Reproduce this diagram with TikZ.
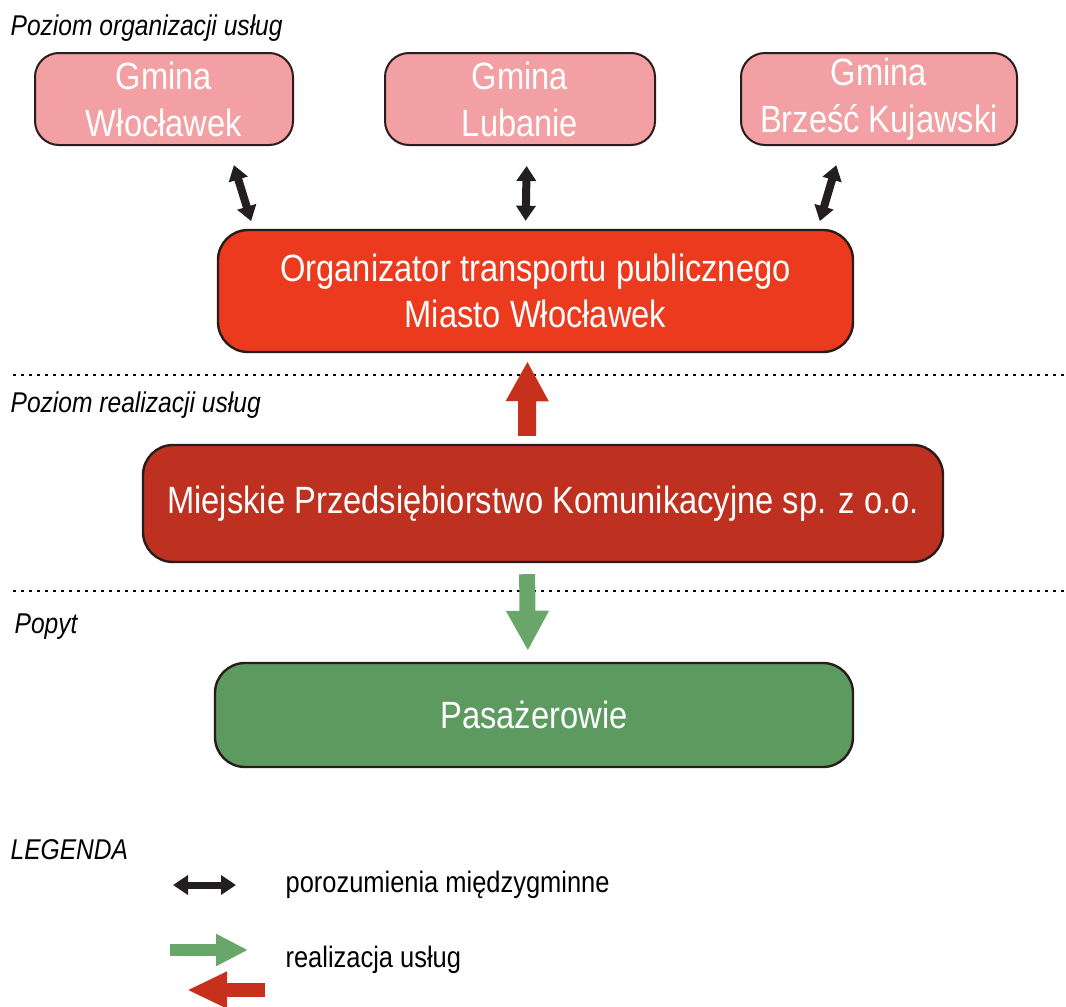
\documentclass[tikz,border=0pt]{standalone}
\usepackage{fontspec}
\setmainfont{Liberation Sans}[FakeStretch=0.86]
\usetikzlibrary{arrows.meta,positioning}
\definecolor{gminapink}{HTML}{F2A0A3}
\definecolor{orgred}{HTML}{EC3A1E}
\definecolor{mpkred}{HTML}{BE301F}
\definecolor{pasgreen}{HTML}{5C9A60}
\definecolor{arrred}{HTML}{C8301E}
\definecolor{arrgreen}{HTML}{68A66A}
\definecolor{boxline}{HTML}{2A1C1C}
\definecolor{arrblack}{HTML}{231F20}

\begin{document}
\begin{tikzpicture}[x=0.5pt, y=-0.5pt, semithick, node distance=45pt]
	\tikzstyle{every node}=[inner sep=0pt]
	\tikzstyle{gmina}=[draw=boxline, line width=1pt, fill=gminapink, rounded corners=12pt, minimum height=46pt, align=center, text=white, font=\fontsize{19}{23.5}\selectfont]
	\tikzstyle{level}=[draw=boxline, line width=1.2pt, rounded corners=15pt, align=center, text=white, font=\fontsize{19}{23}\selectfont]
	\tikzstyle{tier}=[anchor=west, font=\fontsize{14.3}{17}\selectfont\itshape]
	\tikzstyle{legtext}=[anchor=west, font=\fontsize{14.8}{17}\selectfont]
	\tikzstyle{dbl}=[arrblack, line width=4pt, {Triangle[width=9.5pt,length=7.5pt]}-{Triangle[width=9.5pt,length=7.5pt]}]
	\tikzstyle{upward}=[arrred, line width=9pt, -{Triangle[width=20pt,length=20pt]}]
	\tikzstyle{downward}=[arrgreen, line width=8pt, -{Triangle[width=20pt,length=20pt]}]
	\tikzstyle{sep}=[line width=1.1pt, dash pattern=on 1.3pt off 2.7pt]
	\useasboundingbox (0,0) rectangle (1066,1007);

	% poziomy
	\node[tier] (lorg) at (10,28)  {Poziom organizacji usług};
	\node[tier] (lreal) at (10,405) {Poziom realizacji usług};
	\node[tier] (lpop) at (14,627) {Popyt};
	\draw[sep] (13,375) -- (1066,375);
	\draw[sep] (13,591) -- (1066,591);

	% gminy
	\node[gmina, minimum width=129pt] (gw) at (164,99) {Gmina\\Włocławek};
	\node[gmina, minimum width=135pt, right=of gw] (gl) {Gmina\\Lubanie};
	\node[gmina, minimum width=138pt, right=42pt of gl] (gb) {Gmina\\Brześć Kujawski};

	% organizator, przewoznik, pasazerowie
	\node[level, fill=orgred, minimum width=317.5pt, minimum height=61pt] (org) at (535.5,291) {Organizator transportu publicznego\\Miasto Włocławek};
	\node[level, fill=mpkred, minimum width=400pt, minimum height=58.5pt] (mpk) at (543,503.5) {Miejskie Przedsiębiorstwo Komunikacyjne sp. z o.o.};
	\node[level, fill=pasgreen, minimum width=319pt, minimum height=52pt] (pas) at (534,715) {Pasażerowie};

	\draw[dbl, shorten <=10pt, shorten >=4pt] ([xshift=32pt]gw.south) -- ([xshift=-141pt]org.north);
	\draw[dbl, shorten <=10pt, shorten >=4pt] ([xshift=3.5pt]gl.south) -- ([xshift=-5pt]org.north);
	\draw[dbl, shorten <=10pt, shorten >=4pt] ([xshift=-18.5pt]gb.south) -- ([xshift=141pt]org.north);
	\draw[upward, shorten <=4pt, shorten >=4pt] ([xshift=-8pt]mpk.north) -- ([xshift=-4pt]org.south);
	\draw[downward, shorten <=5.5pt, shorten >=5.5pt] ([xshift=-8pt]mpk.south) -- ([xshift=-3pt]pas.north);

	% legenda
	\node[tier] (leg) at (10,850) {LEGENDA};
	\coordinate (k1) at (173,885);
	\coordinate (k2) at (236,885);
	\draw[dbl, line width=3.5pt] (k1) -- (k2);
	\node[legtext] (tk) at (285,885) {porozumienia międzygminne};
	\coordinate (g1) at (170,950);
	\coordinate (g2) at (248,950);
	\draw[arrgreen, line width=6pt, -{Triangle[width=15pt,length=16pt]}] (g1) -- (g2);
	\coordinate (r1) at (265,990);
	\coordinate (r2) at (187,990);
	\draw[arrred, line width=7pt, -{Triangle[width=17pt,length=20pt]}] (r1) -- (r2);
	\node[legtext] (tr) at (285,960) {realizacja usług};
\end{tikzpicture}
\end{document}
